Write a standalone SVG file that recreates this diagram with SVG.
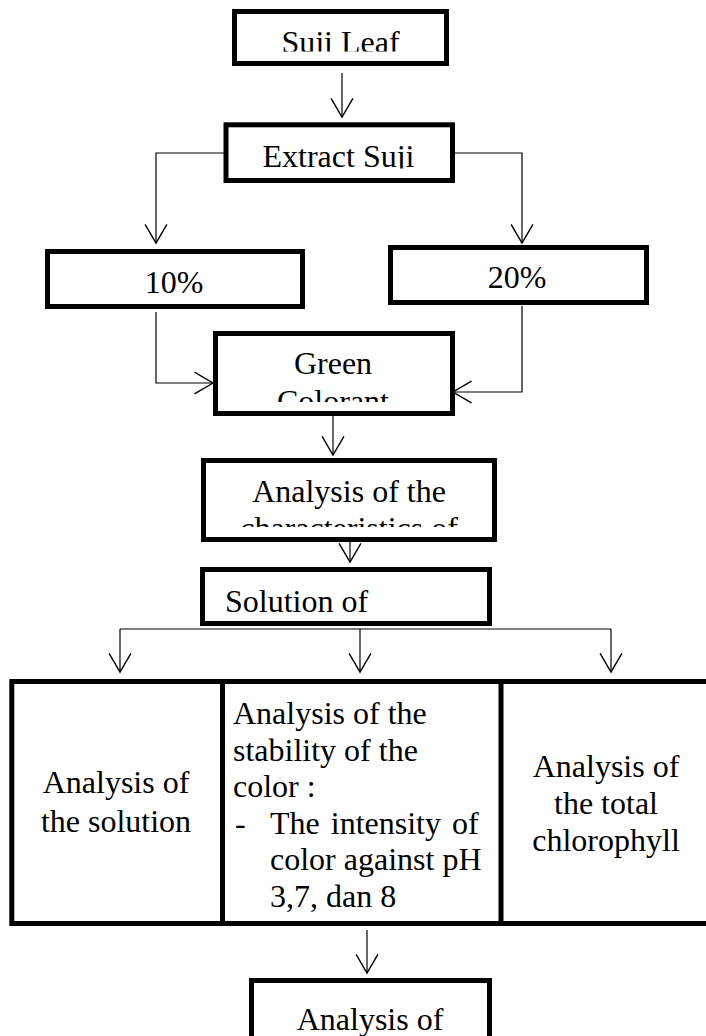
<svg xmlns="http://www.w3.org/2000/svg" width="706" height="1036" viewBox="0 0 706 1036">
<style>
.box{fill:#fff;stroke:#000;stroke-width:5}
.t{font-family:"Liberation Serif","Times New Roman",serif;font-size:32px;fill:#000}
.c{text-anchor:middle}
.ln{fill:none;stroke:#000;stroke-width:1.2}
</style>
<defs>
<marker id="arr" markerUnits="userSpaceOnUse" markerWidth="24" markerHeight="24" viewBox="-19 -11 21 22" refX="0" refY="0" orient="auto" overflow="visible">
<path d="M-17,-10 L0,0 L-17,10" fill="none" stroke="#000" stroke-width="1.3"/>
</marker>
<clipPath id="cSuji"><rect x="234" y="11" width="213" height="40.5"/></clipPath>
<clipPath id="cExt"><rect x="226" y="124" width="227" height="44.5"/></clipPath>
<clipPath id="cGreen"><rect x="215" y="333" width="238" height="69"/></clipPath>
<clipPath id="cAna"><rect x="203" y="460" width="292" height="67"/></clipPath>
<clipPath id="cSol"><rect x="202" y="569" width="288" height="55"/></clipPath>
<clipPath id="cBot"><rect x="251" y="980" width="239" height="70"/></clipPath>
</defs>
<g id="connectors">
<path class="ln" d="M342,73 V117" marker-end="url(#arr)"/>
<path class="ln" d="M224,153 H156 V243" marker-end="url(#arr)"/>
<path class="ln" d="M455,153 H522 V243" marker-end="url(#arr)"/>
<path class="ln" d="M156,312 V383 H213" marker-end="url(#arr)"/>
<path class="ln" d="M522,306 V392 H453" marker-end="url(#arr)"/>
<path class="ln" d="M333,416 V455" marker-end="url(#arr)"/>
<path class="ln" d="M350,542 V562" marker-end="url(#arr)"/>
<path class="ln" d="M120,629 H611"/>
<path class="ln" d="M120,629 V672" marker-end="url(#arr)"/>
<path class="ln" d="M360,629 V672" marker-end="url(#arr)"/>
<path class="ln" d="M611,629 V672" marker-end="url(#arr)"/>
<path class="ln" d="M367,930 V973" marker-end="url(#arr)"/>
</g>
<g id="suji-leaf">
<rect class="box" x="234.5" y="11.5" width="212" height="52"/>
<text class="t c" x="340.5" y="53" clip-path="url(#cSuji)">Suji Leaf</text>
</g>
<g id="extract-suji">
<rect class="box" x="226" y="124.8" width="226.5" height="55.7"/>
<text class="t c" x="338.5" y="167" clip-path="url(#cExt)">Extract Suji</text>
</g>
<g id="p10">
<rect class="box" x="47.5" y="251.5" width="255" height="55"/>
<text class="t c" x="174" y="293">10%</text>
</g>
<g id="p20">
<rect class="box" x="390.5" y="247.5" width="256" height="55"/>
<text class="t c" x="517" y="288">20%</text>
</g>
<g id="green-colorant">
<rect class="box" x="215.5" y="333.5" width="237" height="80"/>
<g clip-path="url(#cGreen)">
<text class="t c" x="333" y="374">Green</text>
<text class="t c" x="333" y="412">Colorant</text>
</g>
</g>
<g id="analysis-char">
<rect class="box" x="203.5" y="460.5" width="291" height="79"/>
<g clip-path="url(#cAna)">
<text class="t c" x="349" y="502">Analysis of the</text>
<text class="t c" x="349" y="539">characteristics of</text>
</g>
</g>
<g id="solution">
<rect class="box" x="202.5" y="569.5" width="287" height="54"/>
<text class="t" x="225" y="612" clip-path="url(#cSol)">Solution of</text>
</g>
<g id="analysis-table">
<rect class="box" x="11.8" y="681.5" width="700" height="242"/>
<path d="M222.5,681 V924 M501,681 V924" stroke="#000" stroke-width="5"/>
</g>
<g id="analysis-solution">
<text class="t c" x="116" y="793">Analysis of</text>
<text class="t c" x="116" y="832">the solution</text>
</g>
<g id="analysis-stability">
<text class="t" x="233" y="724">Analysis of the</text>
<text class="t" x="233" y="760.5">stability of the</text>
<text class="t" x="233" y="797">color :</text>
<text class="t" x="235" y="833.5">-</text>
<text class="t" x="270" y="833.5" word-spacing="3">The intensity of</text>
<text class="t" x="270" y="870">color against pH</text>
<text class="t" x="270" y="906.5">3,7, dan 8</text>
</g>
<g id="analysis-chlorophyll">
<text class="t c" x="606" y="777">Analysis of</text>
<text class="t c" x="606" y="814">the total</text>
<text class="t c" x="606" y="851">chlorophyll</text>
</g>
<g id="analysis-bottom">
<rect class="box" x="251.5" y="980.5" width="238" height="70"/>
<text class="t c" x="370" y="1030" clip-path="url(#cBot)">Analysis of</text>
</g>
</svg>
